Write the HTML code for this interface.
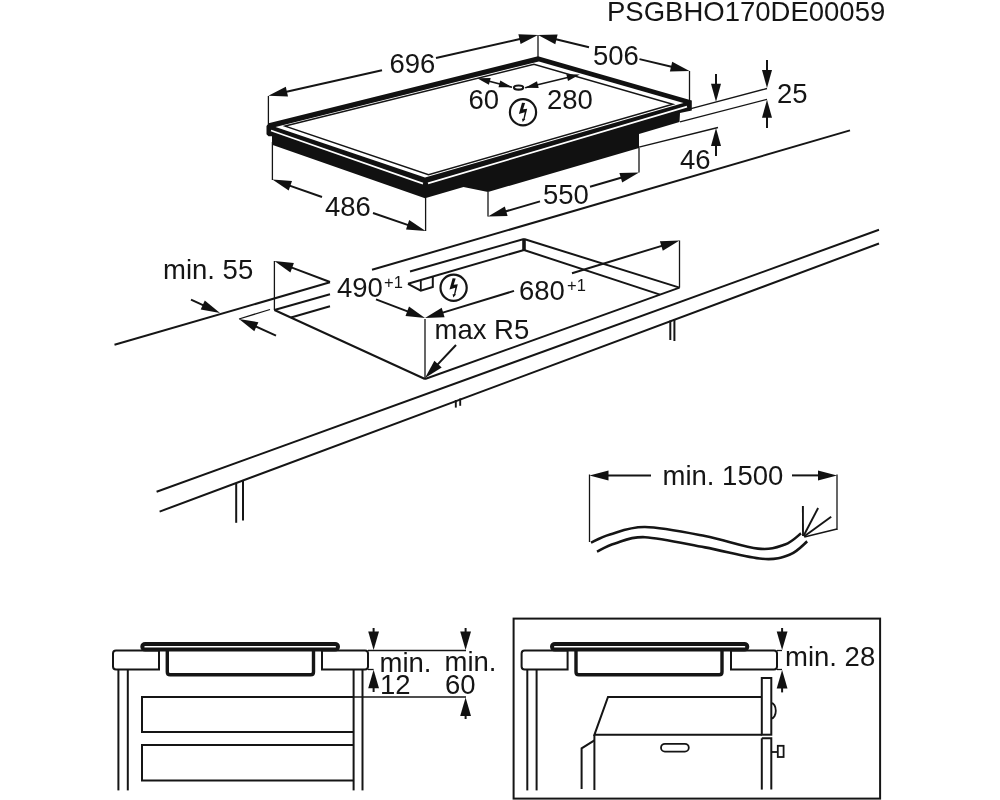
<!DOCTYPE html>
<html><head><meta charset="utf-8"><style>
html,body{margin:0;padding:0;background:#fff;width:1000px;height:800px;overflow:hidden}
svg{display:block;will-change:transform}
text{font-family:"Liberation Sans",sans-serif;fill:#151515;stroke:none}
</style></head><body>
<svg width="1000" height="800" viewBox="0 0 1000 800">
<g stroke="#151515" stroke-linecap="butt" fill="none">
<text x="607" y="20.5" font-size="27.5" text-anchor="start">PSGBHO170DE00059</text>
<polygon points="266.5,126.0 268.5,123.3 538.0,56.3 691.8,100.5 691.8,110.5 680.0,113.0 679.5,122.0 639.0,134.0 639.0,148.0 488.0,192.0 463.5,187.0 425.0,198.3 272.0,144.8 272.0,136.3 268.5,136.3 266.5,134.3" fill="#111" stroke="none"/>
<polygon points="275.5,126.9 538.9,61.4 683.5,102.9 425.0,177.5" fill="#fff" stroke="none"/>
<polygon points="285.2,126.1 533.9,64.3 672.7,104.2 428.5,174.7" stroke-width="1.5" fill="none" stroke-linejoin="miter"/>
<g stroke="#fff">
<line x1="271.0" y1="130.5" x2="423.0" y2="183.6" stroke-width="1.7"/>
<line x1="428.0" y1="183.4" x2="687.0" y2="106.6" stroke-width="1.7"/>
</g>
<line x1="268.4" y1="96.0" x2="268.4" y2="124.0" stroke-width="1.3"/>
<line x1="538.0" y1="35.0" x2="538.0" y2="57.0" stroke-width="1.3"/>
<line x1="689.5" y1="71.0" x2="689.5" y2="100.0" stroke-width="1.3"/>
<line x1="382.0" y1="70.2" x2="283.2" y2="92.5" stroke-width="2.0"/>
<polygon points="268.4,95.8 285.8,86.7 288.0,96.5" fill="#111" stroke="none"/>
<line x1="436.0" y1="58.0" x2="523.2" y2="38.3" stroke-width="2.0"/>
<polygon points="538.0,35.0 520.6,44.1 518.4,34.3" fill="#111" stroke="none"/>
<text x="389.5" y="72.5" font-size="27.5" text-anchor="start">696</text>
<line x1="589.0" y1="47.2" x2="552.8" y2="38.5" stroke-width="2.0"/>
<polygon points="538.0,35.0 557.6,34.6 555.3,44.3" fill="#111" stroke="none"/>
<line x1="639.5" y1="59.1" x2="674.7" y2="67.5" stroke-width="2.0"/>
<polygon points="689.5,71.0 669.9,71.5 672.2,61.7" fill="#111" stroke="none"/>
<text x="593" y="65" font-size="27.5" text-anchor="start">506</text>
<line x1="512.0" y1="87.2" x2="487.3" y2="80.8" stroke-width="1.6"/>
<polygon points="477.2,78.2 490.7,78.1 488.9,84.8" fill="#111" stroke="none"/>
<polygon points="512.0,87.2 498.5,87.3 500.3,80.6" fill="#111" stroke="none"/>
<line x1="525.2" y1="87.8" x2="569.7" y2="77.0" stroke-width="1.6"/>
<polygon points="579.8,74.6 568.0,81.1 566.3,74.3" fill="#111" stroke="none"/>
<polygon points="525.2,87.8 537.0,81.3 538.7,88.1" fill="#111" stroke="none"/>
<ellipse cx="518.6" cy="87.6" rx="4.6" ry="2.1" stroke-width="2.2" fill="#fff"/>
<text x="468.5" y="109" font-size="27.5" text-anchor="start">60</text>
<text x="547" y="109" font-size="27.5" text-anchor="start">280</text>
<circle cx="523" cy="112.3" r="13.1" stroke-width="2.2" fill="none"/>
<polygon points="522.0,102.7 525.1,102.9 523.1,109.2 527.2,108.7 524.7,118.8 525.4,119.0 522.7,122.1 522.0,118.8 523.4,118.8 524.7,112.3 518.9,113.9" fill="#111" stroke="none"/>
<line x1="488.0" y1="192.0" x2="488.0" y2="216.6" stroke-width="1.3"/>
<line x1="639.0" y1="148.0" x2="639.0" y2="172.4" stroke-width="1.3"/>
<line x1="540.0" y1="201.4" x2="502.6" y2="212.3" stroke-width="2.0"/>
<polygon points="488.0,216.6 504.8,206.5 507.6,216.1" fill="#111" stroke="none"/>
<line x1="590.0" y1="186.7" x2="624.4" y2="176.7" stroke-width="2.0"/>
<polygon points="639.0,172.4 622.2,182.5 619.4,172.9" fill="#111" stroke="none"/>
<text x="543" y="204" font-size="27.5" text-anchor="start">550</text>
<line x1="272.4" y1="142.0" x2="272.4" y2="180.0" stroke-width="1.3"/>
<line x1="425.6" y1="197.5" x2="425.6" y2="231.0" stroke-width="1.3"/>
<line x1="322.0" y1="197.0" x2="286.7" y2="184.6" stroke-width="2.0"/>
<polygon points="272.4,179.5 292.0,181.1 288.7,190.5" fill="#111" stroke="none"/>
<line x1="373.0" y1="213.0" x2="411.2" y2="226.1" stroke-width="2.0"/>
<polygon points="425.6,231.0 406.0,229.6 409.2,220.1" fill="#111" stroke="none"/>
<text x="325" y="215.5" font-size="27.5" text-anchor="start">486</text>
<line x1="691.0" y1="108.6" x2="767.0" y2="88.5" stroke-width="1.3"/>
<line x1="680.0" y1="121.8" x2="767.0" y2="99.3" stroke-width="1.3"/>
<line x1="639.0" y1="147.2" x2="718.0" y2="127.5" stroke-width="1.3"/>
<line x1="716.0" y1="74.0" x2="716.0" y2="87.4" stroke-width="2.0"/>
<polygon points="716.0,101.8 711.0,83.8 721.0,83.8" fill="#111" stroke="none"/>
<line x1="767.0" y1="60.0" x2="767.0" y2="73.6" stroke-width="2.0"/>
<polygon points="767.0,88.0 762.0,70.0 772.0,70.0" fill="#111" stroke="none"/>
<line x1="767.0" y1="128.0" x2="767.0" y2="114.1" stroke-width="2.0"/>
<polygon points="767.0,99.7 772.0,117.7 762.0,117.7" fill="#111" stroke="none"/>
<text x="777" y="103" font-size="27.5" text-anchor="start">25</text>
<line x1="716.0" y1="156.0" x2="716.0" y2="142.4" stroke-width="2.0"/>
<polygon points="716.0,128.0 721.0,146.0 711.0,146.0" fill="#111" stroke="none"/>
<text x="680" y="168.5" font-size="27.5" text-anchor="start">46</text>
<line x1="114.5" y1="344.8" x2="330.0" y2="282.3" stroke-width="2.0"/>
<line x1="372.0" y1="269.8" x2="850.0" y2="130.4" stroke-width="2.0"/>
<line x1="274.4" y1="310.0" x2="330.0" y2="294.2" stroke-width="2.0"/>
<line x1="410.0" y1="271.5" x2="524.0" y2="239.0" stroke-width="2.0"/>
<line x1="291.0" y1="317.5" x2="330.0" y2="306.3" stroke-width="2.0"/>
<line x1="408.0" y1="283.8" x2="524.0" y2="250.0" stroke-width="2.0"/>
<line x1="524.0" y1="239.0" x2="524.0" y2="250.5" stroke-width="3.6"/>
<line x1="524.0" y1="239.0" x2="679.5" y2="287.6" stroke-width="2.0"/>
<line x1="524.0" y1="250.0" x2="660.0" y2="294.6" stroke-width="2.0"/>
<line x1="274.4" y1="310.0" x2="425.0" y2="379.0" stroke-width="2.0"/>
<line x1="425.0" y1="379.0" x2="679.5" y2="287.6" stroke-width="2.0"/>
<line x1="274.4" y1="261.0" x2="274.4" y2="310.0" stroke-width="1.3"/>
<line x1="425.0" y1="319.0" x2="425.0" y2="379.0" stroke-width="1.3"/>
<line x1="679.5" y1="240.5" x2="679.5" y2="287.6" stroke-width="1.3"/>
<line x1="330.0" y1="282.0" x2="288.6" y2="266.4" stroke-width="2.0"/>
<polygon points="274.4,261.0 293.9,263.0 290.4,272.4" fill="#111" stroke="none"/>
<line x1="376.0" y1="299.4" x2="410.8" y2="312.6" stroke-width="2.0"/>
<polygon points="425.0,318.0 405.5,315.9 409.0,306.6" fill="#111" stroke="none"/>
<text x="337" y="297" font-size="27.5" text-anchor="start">490</text>
<text x="384" y="288" font-size="16.5" text-anchor="start">+1</text>
<line x1="514.0" y1="290.9" x2="439.5" y2="313.6" stroke-width="2.0"/>
<polygon points="425.0,318.0 441.7,307.7 444.6,317.2" fill="#111" stroke="none"/>
<line x1="572.0" y1="273.2" x2="665.0" y2="244.9" stroke-width="2.0"/>
<polygon points="679.5,240.5 662.8,250.8 659.9,241.2" fill="#111" stroke="none"/>
<text x="519" y="299.5" font-size="27.5" text-anchor="start">680</text>
<text x="567" y="291" font-size="16.5" text-anchor="start">+1</text>
<polyline points="432.8,276.8 432.8,287.0 420.8,290.6 408.0,283.8" stroke-width="2.0" fill="none" stroke-linejoin="miter"/>
<line x1="420.8" y1="280.2" x2="420.8" y2="290.6" stroke-width="1.8"/>
<circle cx="453.6" cy="287.8" r="13.1" stroke-width="2.2" fill="none"/>
<polygon points="452.6,278.2 455.7,278.4 453.7,284.7 457.8,284.2 455.3,294.3 456.0,294.5 453.3,297.6 452.6,294.3 454.0,294.3 455.3,287.8 449.5,289.4" fill="#111" stroke="none"/>
<text x="434.5" y="339" font-size="27.5" text-anchor="start">max R5</text>
<line x1="456.0" y1="345.0" x2="435.4" y2="366.9" stroke-width="2.0"/>
<polygon points="425.0,378.0 434.4,360.7 441.7,367.6" fill="#111" stroke="none"/>
<text x="163" y="278.5" font-size="27.5" text-anchor="start">min. 55</text>
<line x1="191.0" y1="299.6" x2="206.2" y2="306.6" stroke-width="2.0"/>
<polygon points="220.0,313.0 200.7,309.6 204.8,300.5" fill="#111" stroke="none"/>
<line x1="276.0" y1="335.6" x2="252.9" y2="325.2" stroke-width="2.0"/>
<polygon points="239.0,319.0 258.4,322.2 254.3,331.3" fill="#111" stroke="none"/>
<line x1="239.0" y1="319.0" x2="270.0" y2="309.5" stroke-width="1.3"/>
<line x1="156.6" y1="491.8" x2="879.0" y2="229.8" stroke-width="2.0"/>
<line x1="159.6" y1="511.6" x2="879.0" y2="243.5" stroke-width="2.0"/>
<line x1="236.2" y1="483.0" x2="236.2" y2="522.8" stroke-width="2.0"/>
<line x1="243.0" y1="480.8" x2="243.0" y2="520.4" stroke-width="2.0"/>
<line x1="455.8" y1="400.0" x2="455.8" y2="407.6" stroke-width="1.9"/>
<line x1="460.2" y1="398.5" x2="460.2" y2="405.8" stroke-width="1.9"/>
<line x1="670.3" y1="320.5" x2="670.3" y2="340.0" stroke-width="2.0"/>
<line x1="674.4" y1="319.0" x2="674.4" y2="341.0" stroke-width="2.0"/>
<line x1="589.5" y1="474.5" x2="589.5" y2="542.0" stroke-width="1.3"/>
<line x1="837.0" y1="474.5" x2="837.0" y2="530.0" stroke-width="1.3"/>
<line x1="651.0" y1="475.4" x2="604.7" y2="475.4" stroke-width="2.0"/>
<polygon points="589.5,475.4 608.5,470.4 608.5,480.4" fill="#111" stroke="none"/>
<line x1="792.0" y1="475.4" x2="821.8" y2="475.4" stroke-width="2.0"/>
<polygon points="837.0,475.4 818.0,480.4 818.0,470.4" fill="#111" stroke="none"/>
<text x="662.5" y="485" font-size="27.5" text-anchor="start">min. 1500</text>
<path d="M591.0,542.6 C594.2,541.2 601.0,537.1 610.0,534.5 C619.0,531.9 629.2,526.8 645.0,527.0 C660.8,527.2 686.2,532.4 705.0,536.0 C723.8,539.6 744.7,547.2 758.0,548.6 C771.3,550.0 777.8,547.0 785.0,544.5 C792.2,542.0 798.3,535.2 801.0,533.4" fill="none" stroke-width="2.6"/>
<path d="M597.0,551.6 C600.0,550.2 607.0,545.9 615.0,543.5 C623.0,541.1 630.0,536.6 645.0,537.2 C660.0,537.9 685.5,543.8 705.0,547.4 C724.5,551.0 747.8,557.6 762.0,558.8 C776.2,560.0 782.5,557.4 790.0,554.5 C797.5,551.6 804.3,543.6 807.2,541.4" fill="none" stroke-width="2.6"/>
<line x1="803.0" y1="536.0" x2="802.9" y2="505.9" stroke-width="1.9"/>
<line x1="803.5" y1="536.0" x2="818.1" y2="508.0" stroke-width="1.9"/>
<line x1="804.0" y1="536.5" x2="831.2" y2="516.7" stroke-width="1.9"/>
<line x1="804.3" y1="537.0" x2="837.0" y2="529.0" stroke-width="1.5"/>
<path d="M159,650.5 H116 Q113,650.5 113,653.5 V666.5 Q113,669.5 116,669.5 H159 Z" fill="none" stroke-width="2"/>
<path d="M322,650.5 H365 Q368,650.5 368,653.5 V666.5 Q368,669.5 365,669.5 H322 Z" fill="none" stroke-width="2"/>
<rect x="142.3" y="643.9" width="195.7" height="5.7" rx="2.85" fill="none" stroke-width="4"/>
<path d="M167.3,651 V672 Q167.3,674.8 170.1,674.8 H310.7 Q313.5,674.8 313.5,672 V651" fill="none" stroke-width="3.4"/>
<line x1="118.4" y1="669.5" x2="118.4" y2="790.4" stroke-width="2"/>
<line x1="127.8" y1="669.5" x2="127.8" y2="790.4" stroke-width="2"/>
<line x1="353.6" y1="669.5" x2="353.6" y2="790.4" stroke-width="2"/>
<line x1="362.5" y1="669.5" x2="362.5" y2="790.4" stroke-width="2"/>
<polyline points="353.6,697.0 142.0,697.0 142.0,732.0 353.6,732.0" stroke-width="2" fill="none" stroke-linejoin="miter"/>
<polyline points="353.6,745.0 142.0,745.0 142.0,780.5 353.6,780.5" stroke-width="2" fill="none" stroke-linejoin="miter"/>
<line x1="353.6" y1="697.0" x2="466.0" y2="697.0" stroke-width="1.3"/>
<line x1="368.0" y1="650.5" x2="466.0" y2="650.5" stroke-width="1.3"/>
<line x1="368.0" y1="669.5" x2="373.6" y2="669.5" stroke-width="1.3"/>
<line x1="373.6" y1="628.0" x2="373.6" y2="635.2" stroke-width="2.0"/>
<polygon points="373.6,650.0 368.2,631.5 379.0,631.5" fill="#111" stroke="none"/>
<line x1="373.6" y1="692.0" x2="373.6" y2="684.6" stroke-width="2.0"/>
<polygon points="373.6,669.8 379.0,688.3 368.2,688.3" fill="#111" stroke="none"/>
<line x1="465.6" y1="628.0" x2="465.6" y2="635.2" stroke-width="2.0"/>
<polygon points="465.6,650.0 460.2,631.5 471.0,631.5" fill="#111" stroke="none"/>
<line x1="465.6" y1="719.0" x2="465.6" y2="712.3" stroke-width="2.0"/>
<polygon points="465.6,697.5 471.0,716.0 460.2,716.0" fill="#111" stroke="none"/>
<text x="379.5" y="671.5" font-size="27.5" text-anchor="start">min.</text>
<text x="380" y="694.3" font-size="27.5" text-anchor="start">12</text>
<text x="444.5" y="671" font-size="27.5" text-anchor="start">min.</text>
<text x="445" y="694" font-size="27.5" text-anchor="start">60</text>
<rect x="513.6" y="618.6" width="366.5" height="180" fill="none" stroke-width="2"/>
<path d="M567.6,650.5 H524.6 Q521.6,650.5 521.6,653.5 V666.5 Q521.6,669.5 524.6,669.5 H567.6 Z" fill="none" stroke-width="2"/>
<path d="M731,650.5 H774 Q777,650.5 777,653.5 V666.5 Q777,669.5 774,669.5 H731 Z" fill="none" stroke-width="2"/>
<rect x="552" y="643.9" width="195.3" height="5.7" rx="2.85" fill="none" stroke-width="4"/>
<path d="M576,651 V672 Q576,674.8 578.8,674.8 H719.2 Q722,674.8 722,672 V651" fill="none" stroke-width="3.4"/>
<line x1="527.3" y1="669.5" x2="527.3" y2="790.4" stroke-width="2"/>
<line x1="536.6" y1="669.5" x2="536.6" y2="790.4" stroke-width="2"/>
<polyline points="761.8,696.9 608.0,696.9 594.4,734.8 761.8,734.8" stroke-width="2" fill="none" stroke-linejoin="miter"/>
<line x1="594.4" y1="734.8" x2="594.4" y2="790.0" stroke-width="2"/>
<polyline points="594.4,740.4 581.6,748.4 581.6,789.0" stroke-width="2" fill="none" stroke-linejoin="miter"/>
<rect x="661" y="743.8" width="27.8" height="7.8" rx="3.9" fill="none" stroke-width="1.8"/>
<rect x="761.8" y="678" width="9.5" height="56.7" fill="none" stroke-width="2"/>
<path d="M771.3,703 A4.5,7.75 0 0 1 771.3,718.5" fill="none" stroke-width="1.8"/>
<polyline points="761.8,738.3 771.3,738.3 771.3,789.6" stroke-width="2" fill="none" stroke-linejoin="miter"/>
<line x1="761.8" y1="738.3" x2="761.8" y2="789.6" stroke-width="2"/>
<line x1="771.3" y1="752.0" x2="778.0" y2="752.0" stroke-width="1.8"/>
<rect x="777.8" y="745.8" width="5.8" height="11.2" fill="none" stroke-width="1.8"/>
<line x1="777.0" y1="650.5" x2="782.0" y2="650.5" stroke-width="1.3"/>
<line x1="777.0" y1="669.5" x2="782.0" y2="669.5" stroke-width="1.3"/>
<line x1="782.1" y1="628.0" x2="782.1" y2="635.2" stroke-width="2.0"/>
<polygon points="782.1,650.0 776.7,631.5 787.5,631.5" fill="#111" stroke="none"/>
<line x1="782.1" y1="692.4" x2="782.1" y2="684.8" stroke-width="2.0"/>
<polygon points="782.1,670.0 787.5,688.5 776.7,688.5" fill="#111" stroke="none"/>
<text x="785" y="666" font-size="27.5" text-anchor="start">min. 28</text>
</g>
</svg>
</body></html>
